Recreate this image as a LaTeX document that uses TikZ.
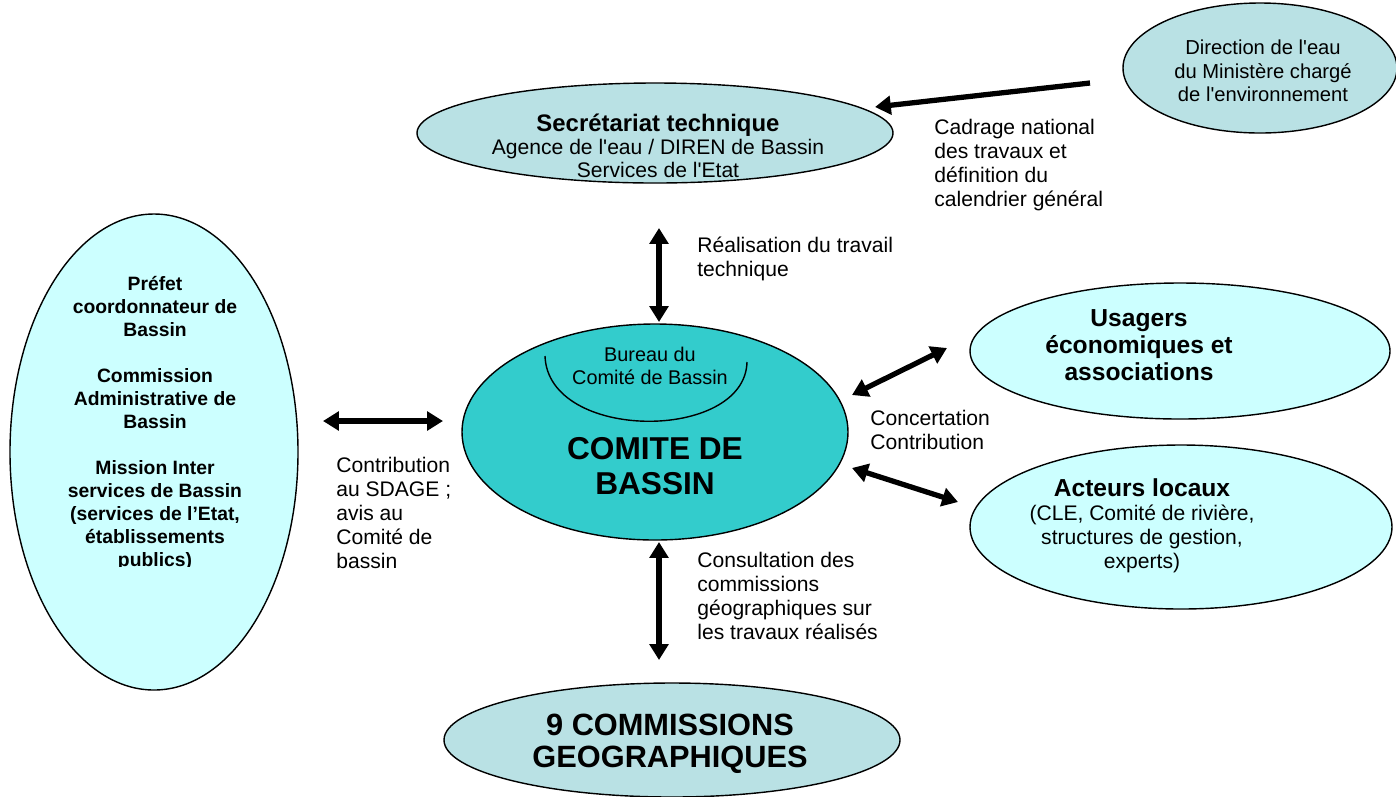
\documentclass[tikz,border=0pt]{standalone}
\usepackage{fontspec}
\setmainfont{Liberation Sans}
\usetikzlibrary{shapes.geometric,arrows.meta}
\newcommand{\sapos}{\XeTeXglyph\XeTeXcharglyph"27\relax}
\definecolor{greycyan}{HTML}{B9E1E4}
\definecolor{palecyan}{HTML}{CCFFFF}
\definecolor{teal2}{HTML}{33CCCC}
\tikzset{
  oval/.style={ellipse, draw=black, line width=0.8pt, inner sep=0pt},
  lbl/.style={inner sep=0pt, align=left, anchor=west, font=\fontsize{12}{13.66}\selectfont},
  txt/.style={inner sep=0pt, align=center},
  arr/.style={line width=3pt, -{Triangle[length=9pt,width=10.5pt]}},
  dbl/.style={line width=3pt, {Triangle[length=9pt,width=10.5pt]}-{Triangle[length=9pt,width=10.5pt]}}
}
\begin{document}
\begin{tikzpicture}[x=0.02cm,y=-0.02cm]
\useasboundingbox (0,0) rectangle (1396,796);
\clip (0,0) rectangle (1396,796);
% ellipses
\node[oval, fill=greycyan, minimum width=274*0.02cm, minimum height=130*0.02cm] (dir) at (1260,68) {};
\node[oval, fill=greycyan, minimum width=476*0.02cm, minimum height=100*0.02cm] (sec) at (655,133) {};
\node[oval, fill=palecyan, minimum width=288*0.02cm, minimum height=476*0.02cm] (pref) at (154,452) {};
\node[oval, fill=teal2, minimum width=386*0.02cm, minimum height=216*0.02cm] (comite) at (655,432) {};
\node[oval, fill=palecyan, minimum width=420*0.02cm, minimum height=136*0.02cm] (usa) at (1180,351) {};
\node[oval, fill=palecyan, minimum width=422*0.02cm, minimum height=164*0.02cm] (act) at (1181,527) {};
\node[oval, fill=greycyan, minimum width=456*0.02cm, minimum height=114*0.02cm] (geo) at (672,740) {};
% bureau arc
\draw[line width=0.8pt] (545,356) .. controls (548,442) and (745,442) .. (747,362);
% texts
\node[txt, font=\fontsize{11.5}{13.4}\selectfont] (dirt) at (1263,71) {Direction de l\sapos eau\\du Ministère chargé\\de l\sapos environnement};
\node[txt, font=\fontsize{12}{13.2}\selectfont] (sect) at (658,146) {{\fontsize{13.6}{14.2}\selectfont\bfseries Secrétariat technique}\\Agence de l\sapos eau / DIREN de Bassin\\Services de l\sapos Etat};
\begin{scope}
\clip (0,210) rectangle (320,566);
\node[txt, font=\fontsize{11}{13.1}\selectfont\bfseries] (preft) at (155,423) {Préfet\\coordonnateur de\\Bassin\\[13.1pt]Commission\\Administrative de\\Bassin\\[13.1pt]Mission Inter\\services de Bassin\\(services de l’Etat,\\établissements\\publics)};
\end{scope}
\node[txt, font=\fontsize{11.3}{13.1}\selectfont] (bur) at (650,366) {Bureau du\\Comité de Bassin};
\node[txt, font=\fontsize{18}{19.9}\selectfont\bfseries] (comt) at (655,466) {COMITE DE\\BASSIN};
\node[txt, font=\fontsize{14}{15.4}\selectfont\bfseries] (usat) at (1139,345) {Usagers\\économiques et\\associations};
\node[txt, font=\fontsize{12}{13.66}\selectfont] (actt) at (1142,526) {{\fontsize{14}{15}\selectfont\bfseries Acteurs locaux}\\(CLE, Comité de rivière,\\structures de gestion,\\experts)};
\node[txt, font=\fontsize{17.5}{18.2}\selectfont\bfseries] (geot) at (670,744) {9 COMMISSIONS\\GEOGRAPHIQUES};
% labels
\node[lbl] (l1) at (934,165) {Cadrage national\\des travaux et\\définition du\\calendrier général};
\node[lbl] (l2) at (697,259) {Réalisation du travail\\technique};
\node[lbl] (l3) at (336,513) {Contribution\\au SDAGE ;\\avis au\\Comité de\\bassin};
\node[lbl] (l4) at (870,430) {Concertation\\Contribution};
\node[lbl] (l5) at (697,596) {Consultation des\\commissions\\géographiques sur\\les travaux réalisés};
% connector end points
\coordinate (dirA) at (1090,83);
\coordinate (secA) at (875,107);
\coordinate (secB) at (659,228);
\coordinate (comN) at (659,322);
\coordinate (prefE) at (323,421);
\coordinate (comW) at (443,421);
\coordinate (comNE) at (852,395);
\coordinate (usaW) at (947,348);
\coordinate (comSE) at (852,468);
\coordinate (actW) at (958,502);
\coordinate (comS) at (659,542);
\coordinate (geoN) at (659,660);
% connectors
\draw[arr] (dirA) -- (secA);
\draw[dbl] (secB) -- (comN);
\draw[dbl] (prefE) -- (comW);
\draw[dbl] (comNE) -- (usaW);
\draw[dbl] (comSE) -- (actW);
\draw[dbl] (comS) -- (geoN);
\end{tikzpicture}
\end{document}
